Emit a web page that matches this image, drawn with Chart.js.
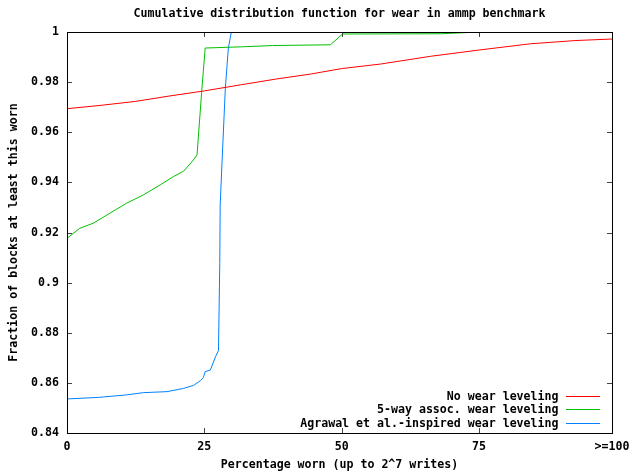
<!DOCTYPE html>
<html lang="en">
<head>
    <meta charset="UTF-8">
    <title>Cumulative distribution function for wear in ammp benchmark</title>
    <style>
        body { margin: 0; background: #fff; }
        canvas { display: block; }
    </style>
</head>
<body>
    <canvas id="cdfChart" width="630" height="472"></canvas>

    <script src="https://cdn.jsdelivr.net/npm/chart.js@4.4.1/dist/chart.umd.js"></script>

    <script>
        // x is in writes (0..127 = 2^7), labelled as percent worn
        const xTickValues = [0, 32, 64, 96, 127];
        const xTickLabels = ['0', '25', '50', '75', '>=100'];

        const noLevelX = [0, 7.7, 15.9, 24, 32, 40.4, 48.6, 56.7, 64, 73, 84.7, 96, 108, 118.6, 127];
        const noLevelY = [0.9694, 0.9707, 0.9723, 0.9745, 0.9765, 0.9789, 0.9812, 0.9832, 0.9854, 0.9872, 0.9903, 0.9928, 0.9953, 0.9966, 0.9972];

        const assocX = [0, 3, 6.1, 10, 13.9, 17.8, 21.7, 24.8, 27.2, 29.1, 30.3, 31.4, 32.2, 40.9, 47.9, 61.4, 64.2, 87.1, 94.8, 127];
        const assocY = [0.9177, 0.9217, 0.9237, 0.9277, 0.9317, 0.935, 0.939, 0.9423, 0.9445, 0.9482, 0.9509, 0.9765, 0.9936, 0.9941, 0.9946, 0.9949, 0.9992, 0.9993, 0.9999, 0.9999];

        const agrawalX = [0, 7.3, 13.9, 17.8, 23.3, 27.2, 29.5, 31.1, 31.8, 32.2, 33.4, 34.6, 35.3, 35.6, 35.7, 36.1, 36.9, 37.6, 38.3, 127];
        const agrawalY = [0.8536, 0.8542, 0.8552, 0.8561, 0.8565, 0.8578, 0.859, 0.8609, 0.8622, 0.8645, 0.8651, 0.8704, 0.8729, 0.9077, 0.931, 0.947, 0.9777, 0.9936, 1, 1];

        const seriesNames = ['No wear leveling', '5-way assoc. wear leveling', 'Agrawal et al.-inspired wear leveling'];
        const seriesColors = ['#ff0000', '#00c000', '#0080ff'];

        const FONT = 'bold 11.6px "DejaVu Sans Mono", monospace';

        function toPoints(xs, ys) {
            return xs.map((x, i) => ({ x: x, y: ys[i] }));
        }

        // gnuplot-like frame: border, inward ticks on all four sides, titles, legend
        const gnuplotFrame = {
            id: 'gnuplotFrame',
            afterDraw(chart) {
                const ctx = chart.ctx;
                const a = chart.chartArea;
                const xs = chart.scales.x;
                const ys = chart.scales.y;
                const tl = 5;

                ctx.save();
                ctx.strokeStyle = '#444';
                ctx.lineWidth = 1;
                ctx.beginPath();
                ys.ticks.forEach(t => {
                    const y = Math.round(ys.getPixelForValue(t.value)) + 0.5;
                    ctx.moveTo(a.left, y); ctx.lineTo(a.left + tl, y);
                    ctx.moveTo(a.right, y); ctx.lineTo(a.right - tl, y);
                });
                xs.ticks.forEach(t => {
                    const x = Math.round(xs.getPixelForValue(t.value)) + 0.5;
                    ctx.moveTo(x, a.bottom); ctx.lineTo(x, a.bottom - tl);
                    ctx.moveTo(x, a.top); ctx.lineTo(x, a.top + tl);
                });
                ctx.stroke();

                ctx.strokeStyle = '#000';
                ctx.strokeRect(Math.round(a.left) + 0.5, Math.round(a.top) + 0.5,
                    Math.round(a.right - a.left), Math.round(a.bottom - a.top));

                ctx.fillStyle = '#000';
                ctx.font = FONT;
                ctx.textAlign = 'center';
                ctx.textBaseline = 'alphabetic';
                const cx = (a.left + a.right) / 2;
                ctx.fillText('Cumulative distribution function for wear in ammp benchmark', cx, 17);
                ctx.fillText('Percentage worn (up to 2^7 writes)', cx, 468);

                ctx.save();
                ctx.translate(17, (a.top + a.bottom) / 2);
                ctx.rotate(-Math.PI / 2);
                ctx.fillText('Fraction of blocks at least this worn', 0, 0);
                ctx.restore();

                // legend, bottom right inside the plot
                ctx.textAlign = 'right';
                chart.data.datasets.forEach((ds, i) => {
                    const y = 396 + i * 13.3;
                    ctx.fillStyle = '#000';
                    ctx.fillText(ds.label, 558.5, y + 4);
                    ctx.strokeStyle = ds.borderColor;
                    ctx.beginPath();
                    ctx.moveTo(566, Math.round(y) + 0.5);
                    ctx.lineTo(600, Math.round(y) + 0.5);
                    ctx.stroke();
                });
                ctx.restore();
            }
        };

        function buildChart() {
            const ctx = document.getElementById('cdfChart');
            const datasets = [
                toPoints(noLevelX, noLevelY),
                toPoints(assocX, assocY),
                toPoints(agrawalX, agrawalY)
            ].map((pts, i) => ({
                label: seriesNames[i],
                data: pts,
                borderColor: seriesColors[i],
                backgroundColor: seriesColors[i],
                borderWidth: 1,
                pointRadius: 0,
                tension: 0,
                fill: false
            }));

            new Chart(ctx, {
                type: 'line',
                data: { datasets: datasets },
                options: {
                    responsive: false,
                    animation: false,
                    layout: { padding: { top: 32, right: 18, left: 0, bottom: 0 } },
                    plugins: {
                        legend: { display: false },
                        tooltip: { enabled: false }
                    },
                    scales: {
                        x: {
                            type: 'linear',
                            min: 0,
                            max: 127,
                            grid: { display: false, drawTicks: false },
                            border: { display: false },
                            afterBuildTicks: scale => {
                                scale.ticks = xTickValues.map(v => ({ value: v }));
                            },
                            afterFit: scale => {
                                scale.height = 39;
                                scale.paddingLeft = 0;
                                scale.paddingRight = 0;
                            },
                            ticks: {
                                padding: 7,
                                maxRotation: 0,
                                autoSkip: false,
                                color: '#000',
                                font: { family: '"DejaVu Sans Mono", monospace', size: 11.6, weight: 'bold' },
                                callback: v => xTickLabels[xTickValues.indexOf(v)]
                            }
                        },
                        y: {
                            min: 0.84,
                            max: 1,
                            grid: { display: false, drawTicks: false },
                            border: { display: false },
                            afterFit: scale => {
                                scale.width = 67;
                                scale.paddingTop = 0;
                                scale.paddingBottom = 0;
                            },
                            ticks: {
                                stepSize: 0.02,
                                padding: 8,
                                color: '#000',
                                font: { family: '"DejaVu Sans Mono", monospace', size: 11.6, weight: 'bold' },
                                callback: v => String(Number(v.toFixed(2)))
                            }
                        }
                    }
                },
                plugins: [gnuplotFrame]
            });
        }

        document.addEventListener('DOMContentLoaded', buildChart);
    </script>
</body>
</html>
